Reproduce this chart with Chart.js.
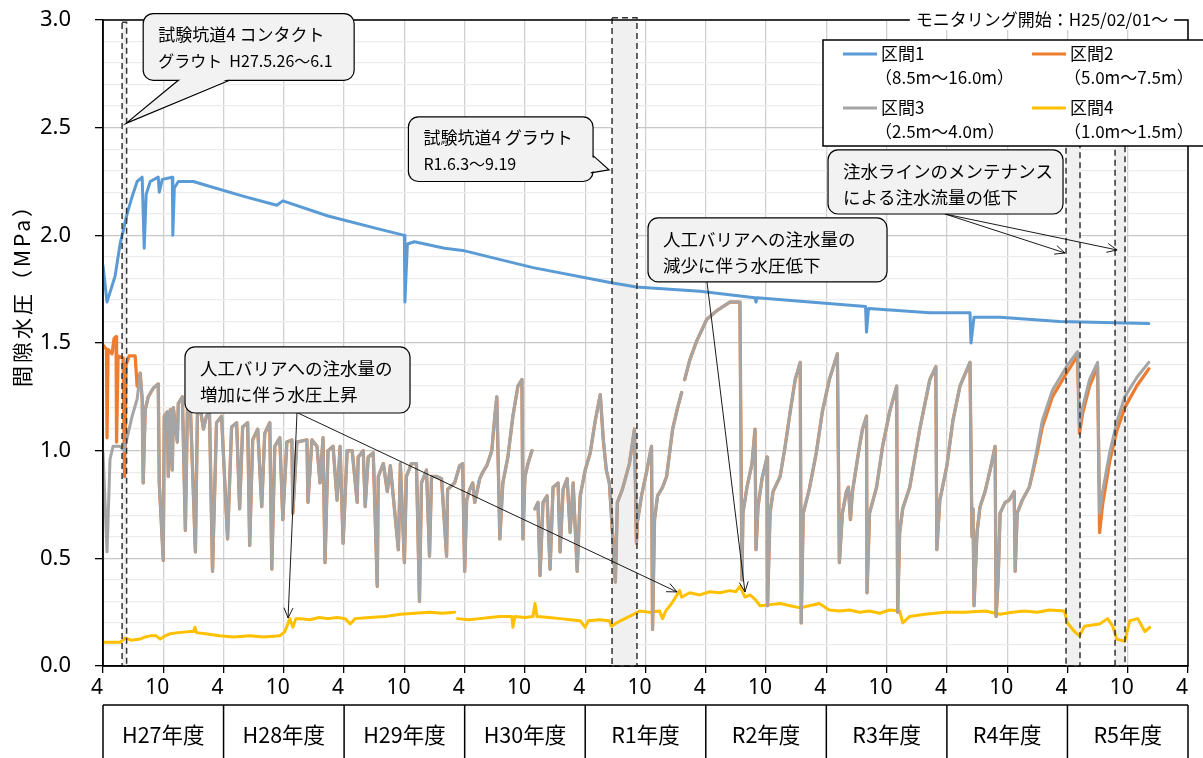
<!DOCTYPE html>
<html>
<head>
<meta charset="utf-8">
<script src="https://cdn.jsdelivr.net/npm/chart.js@4.4.1/dist/chart.umd.min.js"></script>
<style>
  html, body { margin: 0; padding: 0; background: #fff; }
  canvas { display: block; }
</style>
</head>
<body>
<canvas id="chart" width="1203" height="758"></canvas>
<script>
// x = 経過月数 (0 = H27年4月), y = 間隙水圧 (MPa)
const s1 = [[0,1.86],[0.4,1.69],[0.8,1.75],[1.2,1.81],[1.7,1.96],[2.4,2.10],[2.9,2.18],[3.4,2.25],[3.9,2.27],[4.1,1.94],[4.3,2.19],[4.7,2.25],[5.5,2.27],[5.6,2.20],[5.9,2.26],[6.9,2.27],[6.95,2.00],[7.1,2.22],[7.5,2.25],[9.0,2.25],[10.4,2.23],[14.1,2.18],[17.3,2.14],[17.9,2.16],[22.4,2.09],[27.4,2.03],[30.0,2.00],[30.05,1.69],[30.3,1.96],[31.0,1.97],[34.0,1.94],[35.8,1.93],[42.8,1.85],[50.6,1.78],[53.1,1.76],[59.4,1.74],[64.9,1.71],[65.0,1.69],[65.1,1.71],[75.9,1.67],[76.0,1.55],[76.2,1.66],[82.3,1.64],[86.3,1.64],[86.4,1.50],[86.7,1.62],[89.3,1.62],[95.2,1.60],[104.1,1.59]];

const s3 = [[0,0.99],[0.4,0.53],[0.7,0.96],[1.0,1.02],[1.7,1.02],[2.1,1.00],[2.4,1.06],[2.9,1.16],[3.4,1.24],[3.7,1.36],[3.9,1.24],[4.0,0.85],[4.2,1.19],[4.5,1.25],[5.0,1.29],[5.5,1.31],[5.6,0.85],[6.0,0.49],[6.1,1.16],[6.4,1.18],[6.5,0.88],[6.7,1.19],[6.9,0.91],[7.0,1.20],[7.4,1.04],[7.5,1.22],[7.9,1.25],[8.2,0.63],[8.4,1.19],[8.7,1.20],[9.2,0.53],[9.4,1.18],[9.7,1.19],[10.0,1.10],[10.3,1.16],[10.6,1.18],[10.9,0.44],[11.3,1.13],[11.8,1.16],[12.4,0.59],[12.8,1.11],[13.3,1.13],[13.6,0.73],[13.9,1.11],[14.4,1.13],[14.6,0.56],[14.9,1.05],[15.4,1.10],[15.8,0.74],[16.1,1.08],[16.6,1.13],[16.8,0.45],[17.1,1.02],[17.6,1.06],[17.9,0.68],[18.3,1.04],[18.8,1.05],[18.9,0.71],[19.3,1.04],[20.3,1.05],[20.4,0.76],[20.8,1.05],[21.3,1.02],[21.6,0.85],[21.9,1.06],[22.1,0.48],[22.4,1.00],[22.9,1.02],[23.3,0.77],[23.6,1.02],[23.9,0.57],[24.3,1.00],[24.8,1.00],[25.3,0.76],[25.4,0.97],[25.9,1.00],[26.1,0.74],[26.4,0.97],[26.9,0.99],[27.3,0.37],[27.4,0.88],[27.9,0.94],[28.3,0.81],[28.6,0.93],[29.4,0.54],[29.6,0.94],[30.0,0.48],[30.2,0.88],[30.7,0.94],[31.2,0.94],[31.5,0.30],[31.7,0.85],[32.2,0.91],[32.5,0.51],[32.7,0.88],[33.2,0.88],[33.7,0.87],[34.2,0.51],[34.3,0.82],[35.0,0.85],[35.5,0.93],[35.8,0.94],[36.0,0.44],[36.2,0.77],[36.5,0.82],[36.8,0.85],[37.0,0.76],[37.5,0.87],[37.8,0.90],[38.2,0.93],[38.7,1.00],[39.0,1.16],[39.2,1.25],[39.5,0.59],[39.8,0.85],[40.3,0.97],[40.8,1.16],[41.3,1.30],[41.7,1.33],[41.8,0.59],[42.0,0.88],[42.3,0.94],[42.7,1.00],[42.85,null],[43.0,0.73],[43.3,0.76],[43.5,0.42],[43.8,0.76],[44.2,0.79],[44.5,0.45],[44.8,0.83],[45.3,0.85],[45.5,0.53],[45.8,0.82],[46.2,0.87],[46.5,0.62],[46.8,0.85],[47.2,0.44],[47.5,0.79],[48.0,0.91],[48.5,0.99],[49.0,1.14],[49.5,1.26],[49.8,1.05],[50.1,0.91],[50.4,0.85],[50.7,0.63],[51.0,0.39],[51.2,0.76],[51.7,0.82],[52.4,0.94],[52.9,1.10],[53.1,0.57],[53.2,0.67],[53.6,0.79],[54.1,0.90],[54.6,1.02],[54.7,0.17],[54.9,0.68],[55.2,0.79],[55.7,0.83],[56.1,0.88],[56.4,0.99],[56.7,1.10],[57.2,1.20],[57.6,1.27],[57.75,null],[57.9,1.33],[58.4,1.42],[59.1,1.51],[60.1,1.61],[61.1,1.65],[62.4,1.69],[63.4,1.69],[63.6,0.40],[63.7,0.71],[64.1,0.83],[64.6,0.94],[64.9,1.10],[65.0,0.54],[65.2,0.74],[65.6,0.87],[66.1,0.97],[66.15,0.28],[66.4,0.71],[66.7,0.81],[67.4,0.88],[67.9,1.02],[68.4,1.18],[68.9,1.33],[69.4,1.41],[69.5,0.20],[69.7,0.71],[70.3,0.82],[71.0,0.99],[71.6,1.18],[72.3,1.33],[73.1,1.45],[73.3,0.48],[73.6,0.71],[74.0,0.81],[74.2,0.83],[74.4,0.68],[74.6,0.81],[75.3,1.02],[75.6,1.10],[76.0,1.16],[76.05,0.34],[76.3,0.71],[77.0,0.83],[77.6,1.02],[78.3,1.18],[79.0,1.30],[79.1,0.25],[79.3,0.62],[79.6,0.73],[80.3,0.83],[81.3,1.10],[82.3,1.33],[82.9,1.39],[83.0,0.54],[83.3,0.77],[84.0,0.93],[84.6,1.14],[85.3,1.30],[86.3,1.41],[86.5,0.60],[86.6,0.73],[86.7,0.28],[87.0,0.62],[87.3,0.74],[87.8,0.81],[88.3,0.91],[88.8,1.02],[88.9,0.23],[89.1,0.40],[89.3,0.71],[89.8,0.76],[90.2,0.77],[90.7,0.81],[90.8,0.44],[91.0,0.71],[91.5,0.77],[92.2,0.83],[92.9,0.99],[93.5,1.14],[94.5,1.28],[95.9,1.39],[97.0,1.46],[97.2,1.11],[97.5,1.20],[98.2,1.33],[99.0,1.41],[99.2,0.71],[99.5,0.81],[100.2,0.99],[100.9,1.13],[101.7,1.25],[102.9,1.34],[104.1,1.41]];

// 区間2 は大部分で区間3と重なる。違うのは初期と末期だけ
const s2Early = [[0,1.49],[0.35,1.47],[0.4,1.06],[0.5,1.47],[0.9,1.45],[1.1,1.52],[1.3,1.53],[1.35,1.04],[1.5,1.44],[2.0,1.43],[2.15,0.88],[2.3,1.40],[2.6,1.44],[3.2,1.44],[3.4,1.30]];
const s2Late = [[92.2,0.83],[92.9,0.97],[93.5,1.11],[94.5,1.25],[95.9,1.36],[97.0,1.44],[97.2,1.08],[97.5,1.17],[98.2,1.30],[99.0,1.39],[99.2,0.62],[99.5,0.75],[100.2,0.95],[100.9,1.09],[101.7,1.20],[102.9,1.30],[104.1,1.38]];

const s4 = [[0,0.11],[1.7,0.11],[2.2,0.13],[2.8,0.12],[3.7,0.125],[4.2,0.135],[4.7,0.14],[5.3,0.14],[5.7,0.125],[6.2,0.14],[6.7,0.15],[7.5,0.155],[8.7,0.16],[9.0,0.16],[9.15,0.18],[9.3,0.155],[10.2,0.15],[11.6,0.14],[13.0,0.135],[14.6,0.14],[16.0,0.135],[17.6,0.14],[18.1,0.16],[18.6,0.22],[18.9,0.18],[19.2,0.22],[19.6,0.22],[20.6,0.215],[21.5,0.225],[22.4,0.22],[23.3,0.225],[24.1,0.22],[24.6,0.195],[25.1,0.22],[26.5,0.225],[28.1,0.23],[29.6,0.24],[31.0,0.245],[32.5,0.25],[33.8,0.245],[35.0,0.25],[35.2,null],[35.3,0.22],[36.4,0.215],[37.5,0.22],[38.5,0.225],[39.5,0.23],[40.7,0.23],[40.8,0.18],[41.0,0.23],[42.0,0.225],[42.8,0.23],[43.0,0.29],[43.2,0.23],[44.4,0.225],[45.5,0.22],[46.5,0.215],[47.5,0.21],[48.0,0.18],[48.3,0.21],[49.4,0.215],[50.4,0.21],[50.6,0.185],[51.5,0.21],[52.4,0.23],[53.4,0.255],[54.4,0.25],[55.4,0.255],[55.7,0.22],[56.0,0.255],[56.6,0.29],[57.4,0.35],[57.6,0.32],[58.4,0.34],[59.4,0.33],[60.4,0.345],[61.4,0.34],[62.4,0.35],[63.0,0.345],[63.4,0.37],[63.9,0.32],[64.4,0.33],[64.9,0.31],[65.4,0.28],[66.4,0.285],[67.4,0.29],[68.4,0.28],[69.4,0.27],[70.3,0.28],[71.3,0.29],[72.3,0.26],[73.3,0.255],[74.3,0.26],[75.3,0.25],[76.3,0.255],[77.3,0.245],[78.3,0.26],[79.3,0.255],[79.6,0.20],[80.3,0.23],[81.8,0.24],[83.8,0.25],[85.8,0.25],[87.8,0.255],[89.3,0.24],[90.5,0.25],[91.7,0.255],[93.0,0.25],[94.2,0.26],[95.7,0.255],[96.0,0.20],[96.7,0.16],[97.2,0.14],[97.7,0.185],[98.5,0.19],[99.2,0.195],[100.0,0.22],[100.5,0.185],[100.9,0.125],[101.7,0.115],[102.2,0.21],[103.0,0.22],[103.7,0.16],[104.2,0.18]];

const seriesNames = ['区間1', '区間2', '区間3', '区間4'];
const seriesRanges = ['（8.5m～16.0m）', '（5.0m～7.5m）', '（2.5m～4.0m）', '（1.0m～1.5m）'];
const seriesColors = ['#5b9bd5', '#ed7d31', '#a5a5a5', '#ffc000'];
const fiscalYears = ['H27年度', 'H28年度', 'H29年度', 'H30年度', 'R1年度', 'R2年度', 'R3年度', 'R4年度', 'R5年度'];

// 網掛け区間 [開始月, 終了月, 上端MPa]
const bands = [[1.9, 2.35, 2.99], [50.67, 53.15, 3.01], [95.86, 97.25, 2.6], [100.74, 101.73, 2.6]];

const JP = '"Noto Sans CJK JP", "Noto Sans", sans-serif';
const NUM = '"Noto Sans", "Noto Sans CJK JP", sans-serif';

const s2 = [...s2Early, ...s3.filter(p => p[0] >= 3.7 && p[0] < 92.2), ...s2Late];

function pts(arr) {
    return arr.map(p => ({ x: p[0], y: p[1] }));
}

function isMajor(v) {
    return Math.abs(v * 2 - Math.round(v * 2)) < 1e-6;
}

// 吹き出し
const callouts = [
    { box: [4.0, 3.03, 25.0, 2.72], base: [[7.5, 2.72], [12.6, 2.72]], tip: [2.3, 2.52],
      lines: ['試験坑道4 コンタクト', 'グラウト  H27.5.26～6.1'], sizes: [17, 16] },
    { box: [30.4, 2.55, 48.78, 2.25], base: [[48.78, 2.37], [48.55, 2.29]], tip: [50.37, 2.304],
      lines: ['試験坑道4 グラウト', 'R1.6.3～9.19'], sizes: [17, 16] },
    { box: [54.25, 2.081, 78.04, 1.784], lines: ['人工バリアへの注水量の', '減少に伴う水圧低下'], sizes: [17.5, 17.5] },
    { box: [8.16, 1.482, 30.56, 1.175], lines: ['人工バリアへの注水量の', '増加に伴う水圧上昇'], sizes: [17.5, 17.5] },
    { box: [72.17, 2.397, 95.56, 2.099], lines: ['注水ラインのメンテナンス', 'による注水流量の低下'], sizes: [17.5, 17.5] }
];

// 矢印 [始点, 終点]
const arrows = [
    [[19.31, 1.175], [18.42, 0.223]],
    [[19.4, 1.175], [57.14, 0.344]],
    [[60.12, 1.784], [63.9, 0.344]],
    [[83.81, 2.099], [95.76, 1.918]],
    [[83.81, 2.099], [100.94, 1.932]]
];

function roundRectPath(ctx, x, y, w, h, r) {
    ctx.beginPath();
    ctx.moveTo(x + r, y);
    ctx.lineTo(x + w - r, y);
    ctx.arcTo(x + w, y, x + w, y + r, r);
    ctx.lineTo(x + w, y + h - r);
    ctx.arcTo(x + w, y + h, x + w - r, y + h, r);
    ctx.lineTo(x + r, y + h);
    ctx.arcTo(x, y + h, x, y + h - r, r);
    ctx.lineTo(x, y + r);
    ctx.arcTo(x, y, x + r, y, r);
    ctx.closePath();
}

function drawArrow(ctx, x1, y1, x2, y2) {
    const a = Math.atan2(y2 - y1, x2 - x1);
    const len = 11, sp = 0.42;
    ctx.beginPath();
    ctx.moveTo(x1, y1);
    ctx.lineTo(x2, y2);
    ctx.moveTo(x2 - len * Math.cos(a - sp), y2 - len * Math.sin(a - sp));
    ctx.lineTo(x2, y2);
    ctx.lineTo(x2 - len * Math.cos(a + sp), y2 - len * Math.sin(a + sp));
    ctx.stroke();
}

const overlay = {
    id: 'overlay',
    beforeDatasetsDraw(chart) {
        const ctx = chart.ctx, xs = chart.scales.x, ys = chart.scales.y;
        ctx.save();
        ctx.fillStyle = '#f0f0f0';
        bands.forEach(b => {
            const x1 = xs.getPixelForValue(b[0]), x2 = xs.getPixelForValue(b[1]);
            const y1 = ys.getPixelForValue(b[2]), y2 = ys.getPixelForValue(0);
            ctx.fillRect(x1, y1, x2 - x1, y2 - y1);
        });
        ctx.restore();
    },
    afterDatasetsDraw(chart) {
        const ctx = chart.ctx, xs = chart.scales.x, ys = chart.scales.y;
        const X = v => xs.getPixelForValue(v), Y = v => ys.getPixelForValue(v);
        const area = chart.chartArea;
        ctx.save();

        // 網掛けの破線枠
        ctx.strokeStyle = '#333';
        ctx.lineWidth = 1.5;
        ctx.setLineDash([6, 4]);
        bands.forEach(b => {
            const x1 = X(b[0]), x2 = X(b[1]), y1 = Y(b[2]), y2 = Y(0);
            ctx.strokeRect(x1, y1, x2 - x1, y2 - y1);
        });
        ctx.setLineDash([]);

        // 外枠
        ctx.strokeStyle = '#000';
        ctx.lineWidth = 1.5;
        ctx.strokeRect(area.left, area.top, area.right - area.left, area.bottom - area.top);

        // モニタリング開始
        ctx.font = '17px ' + JP;
        ctx.textBaseline = 'middle';
        ctx.textAlign = 'center';
        const title = 'モニタリング開始：H25/02/01～';
        const tw = ctx.measureText(title).width;
        ctx.fillStyle = '#fff';
        ctx.fillRect(1042 - tw / 2 - 6, area.top - 10, tw + 12, 20);
        ctx.fillStyle = '#000';
        ctx.fillText(title, 1042, area.top);

        // 矢印
        ctx.strokeStyle = '#000';
        ctx.lineWidth = 0.9;
        arrows.forEach(a => drawArrow(ctx, X(a[0][0]), Y(a[0][1]), X(a[1][0]), Y(a[1][1])));

        // 吹き出し
        callouts.forEach(c => {
            const x1 = X(c.box[0]), y1 = Y(c.box[1]), x2 = X(c.box[2]), y2 = Y(c.box[3]);
            roundRectPath(ctx, x1, y1, x2 - x1, y2 - y1, 10);
            ctx.fillStyle = '#f2f2f2';
            ctx.fill();
            ctx.strokeStyle = '#000';
            ctx.lineWidth = 1.2;
            ctx.stroke();
            if (c.base) {
                const cx = (x1 + x2) / 2, cy = (y1 + y2) / 2;
                const b = c.base.map(p => [X(p[0]), Y(p[1])]);
                const inner = b.map(p => {
                    const dx = cx - p[0], dy = cy - p[1], d = Math.hypot(dx, dy);
                    return [p[0] + dx / d * 3, p[1] + dy / d * 3];
                });
                const t = [X(c.tip[0]), Y(c.tip[1])];
                ctx.beginPath();
                ctx.moveTo(inner[0][0], inner[0][1]);
                ctx.lineTo(t[0], t[1]);
                ctx.lineTo(inner[1][0], inner[1][1]);
                ctx.closePath();
                ctx.fillStyle = '#f2f2f2';
                ctx.fill();
                ctx.beginPath();
                ctx.moveTo(b[0][0], b[0][1]);
                ctx.lineTo(t[0], t[1]);
                ctx.lineTo(b[1][0], b[1][1]);
                ctx.stroke();
            }
            ctx.fillStyle = '#000';
            ctx.textAlign = 'left';
            ctx.textBaseline = 'middle';
            c.lines.forEach((ln, i) => {
                ctx.font = c.sizes[i] + 'px ' + JP;
                ctx.fillText(ln, x1 + 15, y1 + 21 + i * 26);
            });
        });

        // 凡例
        ctx.fillStyle = '#fff';
        ctx.fillRect(823, 40, 390, 106);
        ctx.strokeStyle = '#000';
        ctx.lineWidth = 1.5;
        ctx.strokeRect(823, 40, 390, 106);
        seriesNames.forEach((name, i) => {
            const lx = i % 2 === 0 ? 843 : 1032;
            const ly = i < 2 ? 54 : 108;
            ctx.strokeStyle = seriesColors[i];
            ctx.lineWidth = 3;
            ctx.beginPath();
            ctx.moveTo(lx, ly);
            ctx.lineTo(lx + 34, ly);
            ctx.stroke();
            ctx.fillStyle = '#000';
            ctx.textAlign = 'left';
            ctx.font = '17px ' + JP;
            ctx.fillText(name, lx + 38, ly);
            ctx.fillText(seriesRanges[i], lx + 32, ly + 24);
        });

        // 縦軸タイトル
        ctx.save();
        ctx.translate(22, 290);
        ctx.rotate(-Math.PI / 2);
        ctx.textAlign = 'center';
        ctx.font = '21px ' + JP;
        ctx.letterSpacing = '3px';
        ctx.fillText('間隙水圧（MPa）', 0, 0);
        ctx.restore();

        // 年度表
        ctx.strokeStyle = '#000';
        ctx.lineWidth = 1.5;
        ctx.beginPath();
        ctx.moveTo(X(0), 705);
        ctx.lineTo(X(108), 705);
        for (let i = 0; i <= fiscalYears.length; i++) {
            ctx.moveTo(X(i * 12), 705);
            ctx.lineTo(X(i * 12), 760);
        }
        ctx.stroke();
        ctx.font = '21.5px ' + JP;
        ctx.textAlign = 'center';
        ctx.fillStyle = '#000';
        fiscalYears.forEach((fy, i) => ctx.fillText(fy, X(i * 12 + 6), 735));

        ctx.restore();
    }
};

new Chart(document.getElementById('chart'), {
    type: 'line',
    data: {
        datasets: [
            { label: seriesNames[0], data: pts(s1), borderColor: seriesColors[0], borderWidth: 3, order: 0 },
            { label: seriesNames[1], data: pts(s2), borderColor: seriesColors[1], borderWidth: 3.3, order: 2 },
            { label: seriesNames[2], data: pts(s3), borderColor: seriesColors[2], borderWidth: 3, order: 1 },
            { label: seriesNames[3], data: pts(s4), borderColor: seriesColors[3], borderWidth: 3, order: 3 }
        ]
    },
    options: {
        responsive: false,
        animation: false,
        devicePixelRatio: 1,
        spanGaps: false,
        layout: { padding: { left: 0, top: 20, right: 15, bottom: 0 } },
        elements: {
            point: { radius: 0 },
            line: { tension: 0, borderJoinStyle: 'round', borderCapStyle: 'round', fill: false }
        },
        plugins: {
            legend: { display: false },
            tooltip: { enabled: false }
        },
        scales: {
            x: {
                type: 'linear',
                min: 0,
                max: 108,
                afterFit(s) { s.height = 92; s.paddingLeft = 0; s.paddingRight = 0; },
                border: { color: '#000', width: 1.5 },
                grid: { color: '#d0d0d0', lineWidth: 1.3, tickColor: '#000', tickLength: 7 },
                ticks: {
                    stepSize: 6,
                    autoSkip: false,
                    maxRotation: 0,
                    labelOffset: -6,
                    padding: 2,
                    color: '#000',
                    font: { family: NUM, size: 21 },
                    callback: v => (v % 12 === 0 ? '4' : '10')
                }
            },
            y: {
                min: 0,
                max: 3,
                afterFit(s) { s.width = 103; s.paddingTop = 0; s.paddingBottom = 0; },
                border: { color: '#000', width: 1.5 },
                grid: {
                    color: c => (isMajor(c.tick.value) ? '#c8c8c8' : '#ececec'),
                    tickColor: c => (isMajor(c.tick.value) ? '#000' : 'rgba(0,0,0,0)'),
                    lineWidth: 1.3,
                    tickLength: 8
                },
                ticks: {
                    stepSize: 0.1,
                    autoSkip: false,
                    padding: 24,
                    color: '#000',
                    font: { family: NUM, size: 22 },
                    callback: v => (isMajor(v) ? v.toFixed(1) : '')
                }
            }
        }
    },
    plugins: [overlay]
});
</script>
</body>
</html>
